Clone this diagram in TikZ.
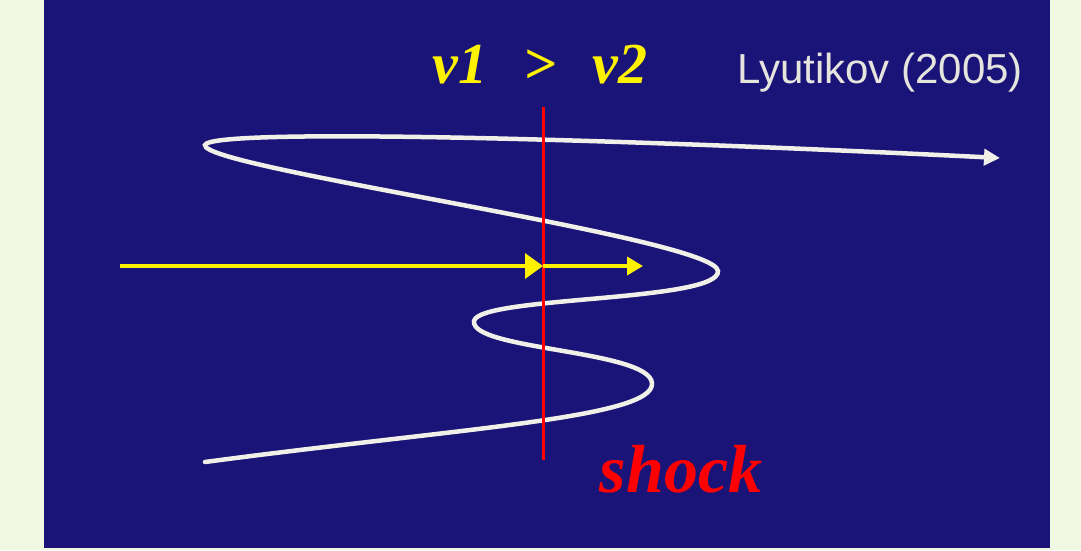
\documentclass[tikz,border=0pt]{standalone}
\usepackage{fontspec}
\setmainfont{Liberation Serif}
\setsansfont{Liberation Sans}
\usetikzlibrary{arrows.meta}

\definecolor{paleGreen}{RGB}{240,248,226}
\definecolor{slideBlue}{RGB}{26,20,120}
\definecolor{lineWhite}{RGB}{240,240,232}

\begin{document}
\begin{tikzpicture}[x=1pt, y=-1pt]

		% --- Parametri ---
		\def\shockX{543}
		\def\beamY{266}

		% --- Stili ---
		\tikzset{
			fieldline/.style={draw=lineWhite, line width=4.5pt, line cap=round},
			shockline/.style={draw=red, line width=3pt},
			beam/.style={draw=yellow, line width=3.5pt},
			bigitalic/.style={font=\bfseries\itshape, inner sep=0pt, anchor=base}
		}

		% --- Sfondo ---
		\useasboundingbox (0,0) rectangle (1081,550);
		\fill[paleGreen] (0,0) rectangle (1081,550);
		\fill[slideBlue] (44,0) rectangle (1050,548);

		% --- Coordinate ---
		\coordinate (shockTop) at (\shockX,107);
		\coordinate (shockBot) at (\shockX,460);
		\coordinate (beamStart) at (120,\beamY);
		\coordinate (beamHit) at (\shockX,\beamY);
		\coordinate (beamEnd) at (643,\beamY);

		% --- Linea di campo ---
		\draw[fieldline, -{Triangle[length=16pt, width=16pt]}] (205,462)
			.. controls (460,428) and (655,418) .. (652,383)
			.. controls (649,350) and (470,350) .. (474,321)
			.. controls (479,296) and (720,302) .. (718,271)
			.. controls (716,238) and (200,168) .. (205,145)
			.. controls (210,128) and (600,138) .. (1000,158);

		% --- Shock ---
		\draw[shockline] (shockTop) -- (shockBot);

		% --- Fascio ---
		\draw[beam, -{Triangle[length=18pt, width=25pt]}] (beamStart) -- (beamHit);
		\draw[beam, -{Triangle[length=16pt, width=18pt]}] (beamHit) -- (beamEnd);

		% --- Testi ---
		\node[bigitalic, text=yellow, font=\fontsize{58}{62}\selectfont\bfseries\itshape] (speeds) at (540,83) {v1\hspace{0.62em}>\hspace{0.62em}v2};
		\node[font=\fontsize{42}{46}\selectfont\sffamily, text=lineWhite!90!gray, inner sep=0pt, anchor=base west] (ref) at (737,83) {Lyutikov (2005)};
		\node[bigitalic, text=red, font=\fontsize{68}{72}\selectfont\bfseries\itshape] (shocklabel) at (681,492) {shock};

	\end{tikzpicture}
\end{document}
